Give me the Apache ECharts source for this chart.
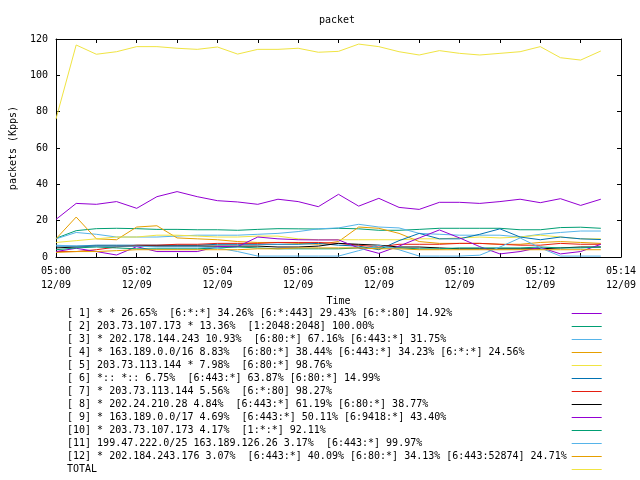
<!DOCTYPE html>
<html><head><meta charset="utf-8">
<script src="https://cdn.jsdelivr.net/npm/echarts@6/dist/echarts.min.js"></script>
<style>html,body{margin:0;padding:0;background:#fff}#c{width:640px;height:480px}</style>
</head><body><div id="c"></div>
<script>
const times = ['05:00:00','05:00:30','05:01:00','05:01:30','05:02:00','05:02:30','05:03:00','05:03:30',
  '05:04:00','05:04:30','05:05:00','05:05:30','05:06:00','05:06:30','05:07:00','05:07:30',
  '05:08:00','05:08:30','05:09:00','05:09:30','05:10:00','05:10:30','05:11:00','05:11:30',
  '05:12:00','05:12:30','05:13:00','05:13:30'];
const xTickLabels = ['05:00','05:02','05:04','05:06','05:08','05:10','05:12','05:14'];
const dateLabel = '12/09';
const yTicks = [0, 20, 40, 60, 80, 100, 120];

const s1  = [20.7,29.5,29.0,30.5,26.8,33.2,36.0,33.2,31.0,30.3,29.0,31.8,30.5,27.7,34.5,28.0,32.3,27.3,26.2,30.1,30.1,29.5,30.5,31.8,29.9,32.1,28.4,31.8];
const s2  = [10.3,14.5,15.6,15.8,15.6,15.2,15.2,15.0,15.0,14.7,15.2,15.6,15.5,15.4,15.8,15.5,14.7,14.7,15.2,15.8,15.8,15.8,15.8,15.0,15.0,16.2,16.4,15.8];
const s3  = [10.0,13.5,12.5,11.0,11.0,11.0,11.5,12.0,12.0,12.0,12.5,13.0,14.0,15.5,16.0,18.0,16.5,16.0,13.0,12.5,12.0,12.0,12.0,11.0,12.5,13.5,14.3,14.3];
const s4  = [10.0,22.0,10.0,9.5,16.5,17.2,10.5,10.0,9.5,8.5,8.0,8.0,7.5,7.0,8.5,16.5,15.8,13.0,8.5,7.5,7.5,7.5,7.0,7.0,8.0,8.5,8.0,7.5];
const s5  = [8.0,9.0,10.0,11.0,11.0,12.0,12.0,11.5,11.0,11.0,11.5,11.5,10.0,9.5,9.5,9.5,9.5,9.5,10.0,10.0,10.5,11.0,10.5,11.0,12.0,11.0,10.0,10.0];
const s6  = [6.0,6.0,6.5,6.5,6.5,6.5,6.5,6.5,7.0,7.0,7.0,7.0,7.0,7.5,6.5,6.0,4.0,9.0,13.0,10.0,10.0,12.5,15.5,11.0,9.5,11.0,10.0,9.6];
const s7  = [3.0,3.0,4.0,5.5,6.5,6.5,7.0,7.0,7.5,7.5,7.5,8.0,8.0,8.0,7.5,6.5,5.5,7.0,7.0,7.0,7.5,7.5,7.0,6.5,6.5,7.5,7.0,7.0];
const s8  = [5.0,5.5,6.0,6.0,6.0,6.0,6.0,6.0,6.0,6.0,6.0,5.5,5.5,6.0,7.5,7.0,6.5,5.5,5.5,5.0,4.5,4.5,4.5,4.5,4.5,5.0,5.5,5.5];
const s9  = [3.0,4.8,3.0,1.1,5.7,3.0,3.0,3.0,5.7,5.7,11.0,10.0,9.5,9.4,9.4,5.0,2.0,6.0,10.5,14.9,10.5,5.7,1.7,3.0,5.3,1.7,3.0,7.0];
const s10 = [4.0,5.0,5.5,5.0,4.5,4.5,4.5,4.5,5.0,5.5,5.0,4.5,4.5,4.5,4.5,5.0,5.0,5.0,4.5,4.5,5.0,5.0,5.0,5.0,5.5,5.0,5.0,5.5];
const s11 = [6.5,6.0,6.0,6.0,6.0,5.5,5.5,5.5,5.0,3.0,0.5,0.5,0.5,0.5,0.5,3.5,6.5,4.0,0.5,0.5,0.5,1.0,5.5,10.5,5.0,0.5,0.5,0.5];
const s12 = [2.5,3.0,3.0,3.5,4.0,4.0,4.0,4.0,4.0,4.0,4.5,4.5,5.0,5.0,5.0,5.0,4.5,4.5,4.0,4.0,4.0,4.0,4.0,4.0,4.0,4.0,4.0,4.0];
const total = [76.0,116.7,111.6,113.0,115.8,115.8,114.9,114.3,115.6,111.7,114.3,114.3,114.9,112.7,113.2,117.2,115.8,113.0,111.2,113.6,112.1,111.2,112.1,113.0,115.8,109.7,108.4,113.4];

const names = [
  '[ 1] * * 26.65%  [6:*:*] 34.26% [6:*:443] 29.43% [6:*:80] 14.92%',
  '[ 2] 203.73.107.173 * 13.36%  [1:2048:2048] 100.00%',
  '[ 3] * 202.178.144.243 10.93%  [6:80:*] 67.16% [6:443:*] 31.75%',
  '[ 4] * 163.189.0.0/16 8.83%  [6:80:*] 38.44% [6:443:*] 34.23% [6:*:*] 24.56%',
  '[ 5] 203.73.113.144 * 7.98%  [6:80:*] 98.76%',
  '[ 6] *:: *:: 6.75%  [6:443:*] 63.87% [6:80:*] 14.99%',
  '[ 7] * 203.73.113.144 5.56%  [6:*:80] 98.27%',
  '[ 8] * 202.24.210.28 4.84%  [6:443:*] 61.19% [6:80:*] 38.77%',
  '[ 9] * 163.189.0.0/17 4.69%  [6:443:*] 50.11% [6:9418:*] 43.40%',
  '[10] * 203.73.107.173 4.17%  [1:*:*] 92.11%',
  '[11] 199.47.222.0/25 163.189.126.26 3.17%  [6:443:*] 99.97%',
  '[12] * 202.184.243.176 3.07%  [6:443:*] 40.09% [6:80:*] 34.13% [6:443:52874] 24.71%',
  'TOTAL'
];
const seriesValues = [s1,s2,s3,s4,s5,s6,s7,s8,s9,s10,s11,s12,total];
const colors = ['#9400d3','#009e73','#56b4e9','#e69f00','#f0e442','#0072b2','#e51e10','#000000',
                '#9400d3','#009e73','#56b4e9','#e69f00','#f0e442'];

const FONT = 'DejaVu Sans Mono';
function toSec(t){ const p = t.split(':').map(Number); return (p[0]-5)*3600 + p[1]*60 + p[2]; }
const xs = times.map(toSec);
const xMax = toSec(xTickLabels[xTickLabels.length-1] + ':00');

const chart = echarts.init(document.getElementById('c'), null, {renderer:'canvas'});
const axisCommon = {
  axisLine:{show:true, onZero:false, lineStyle:{color:'#000', width:1}},
  axisTick:{show:true, inside:true, length:4, lineStyle:{color:'#000', width:1}},
  splitLine:{show:false}
};
chart.setOption({
  animation:false,
  backgroundColor:'#fff',
  title:{text:'packet', left:319, top:15, padding:0,
    textStyle:{fontFamily:FONT, fontSize:10, fontWeight:'normal', color:'#000'}},
  grid:{left:53, right:19, top:39, bottom:223, show:false},
  legend:{orient:'vertical', left:67, top:307, padding:0, itemGap:0, itemWidth:30, itemHeight:13,
    align:'right', selectedMode:false, data:names,
    itemStyle:{opacity:0},
    lineStyle:{width:1},
    formatter: n => n.padEnd(83),
    textStyle:{fontFamily:FONT, fontSize:10, color:'#000', lineHeight:13}},
  xAxis:[
    Object.assign({type:'value', min:0, max:xMax, interval:60, position:'bottom',
      name:'Time', nameLocation:'middle', nameGap:39,
      nameTextStyle:{fontFamily:FONT, fontSize:10, color:'#000'},
      axisLabel:{fontFamily:FONT, fontSize:10, color:'#000', margin:7, lineHeight:14,
        formatter: v => { if (v % 120 !== 0) return ''; return xTickLabels[v/120] + '\n' + dateLabel; }}
    }, axisCommon),
    Object.assign({type:'value', min:0, max:xMax, interval:60, position:'top', axisLabel:{show:false}}, axisCommon)
  ],
  yAxis:[
    Object.assign({type:'value', min:yTicks[0], max:yTicks[yTicks.length-1], interval:yTicks[1]-yTicks[0], position:'left',
      name:'packets (Kpps)', nameLocation:'middle', nameGap:38, nameRotate:90,
      nameTextStyle:{fontFamily:FONT, fontSize:10, color:'#000'},
      axisLabel:{fontFamily:FONT, fontSize:10, color:'#000', margin:8}}, axisCommon),
    Object.assign({type:'value', min:yTicks[0], max:yTicks[yTicks.length-1], interval:yTicks[1]-yTicks[0], position:'right', axisLabel:{show:false}}, axisCommon)
  ],
  series: seriesValues.map((vals, k) => ({
    name:names[k], type:'line', xAxisIndex:0, yAxisIndex:0, symbol:'none', silent:true,
    color:colors[k], lineStyle:{color:colors[k], width:1}, z:2+k*0.01,
    data: vals.map((v,i) => [xs[i], v])
  }))
});
</script></body></html>
